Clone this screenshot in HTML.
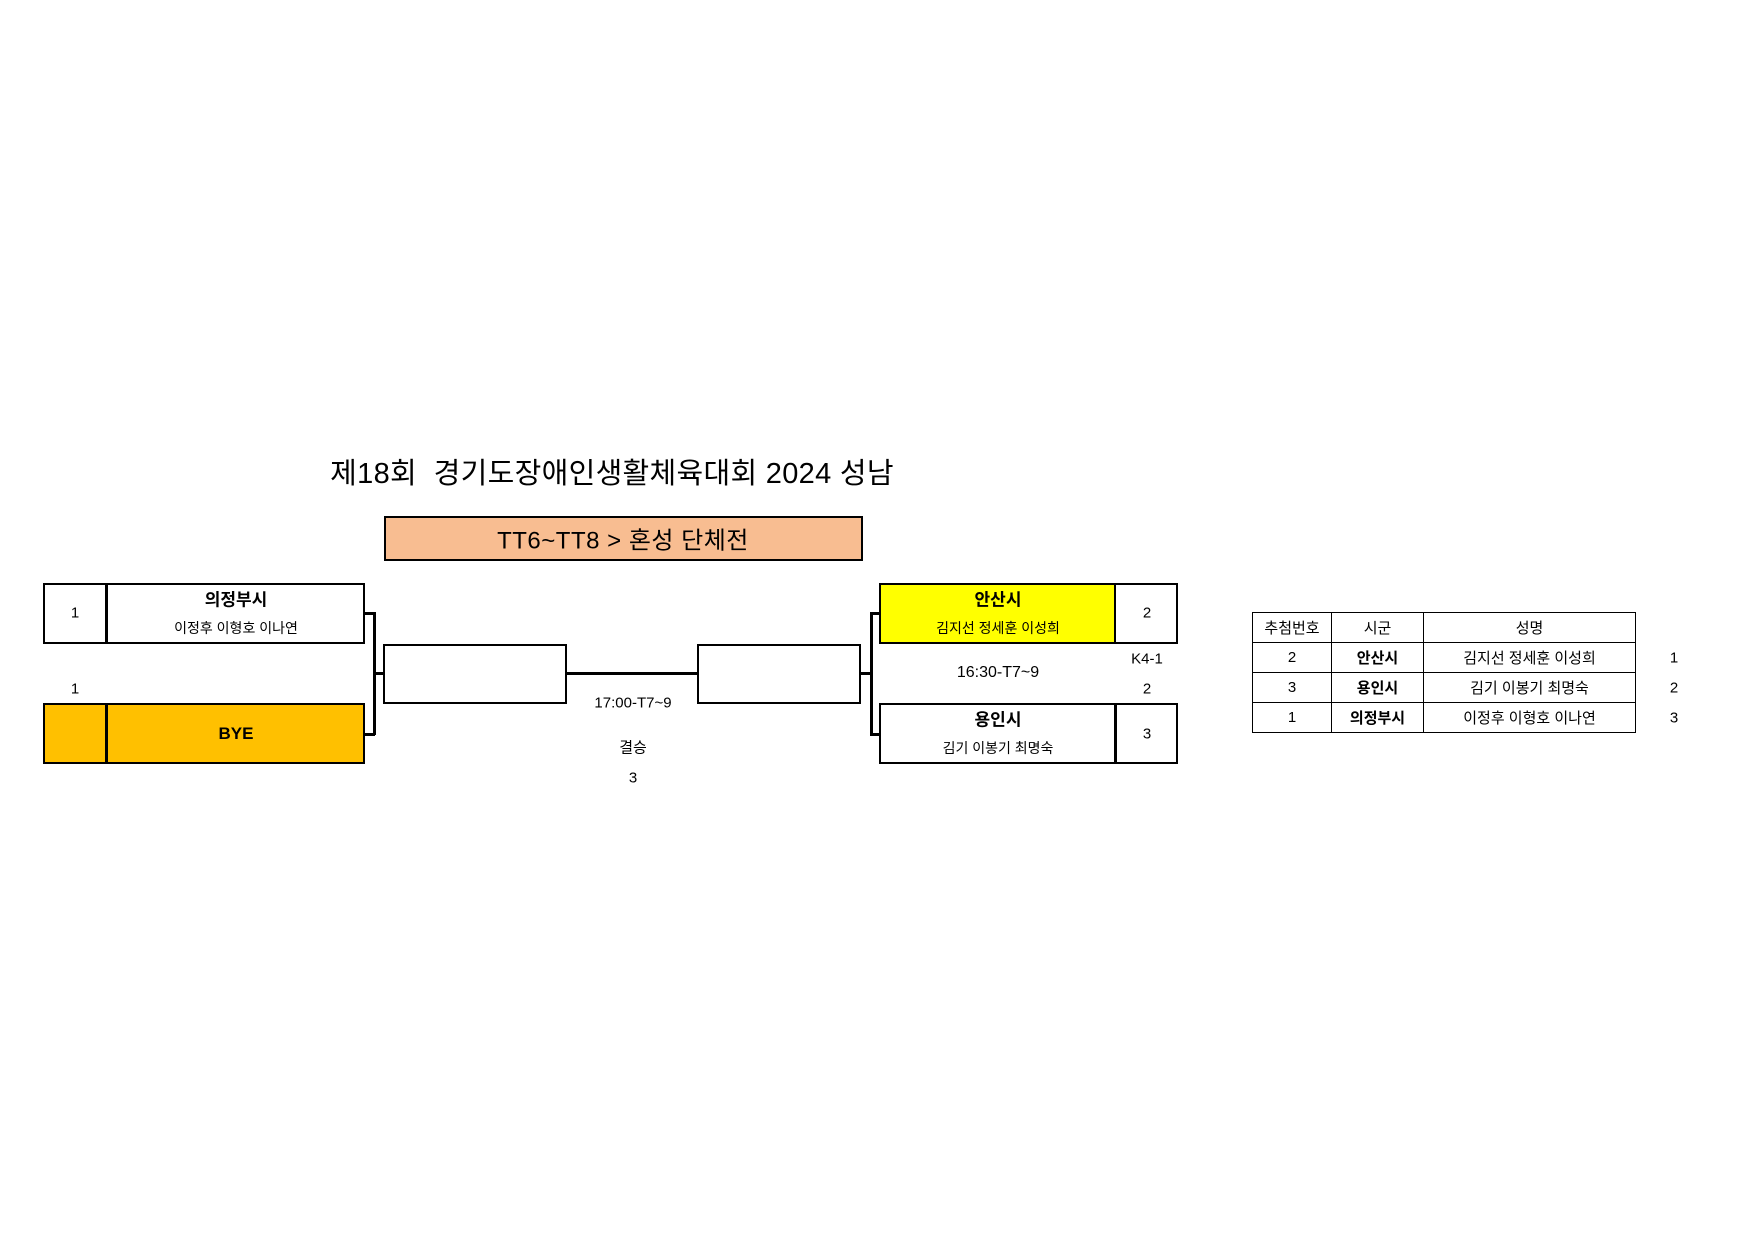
<!DOCTYPE html>
<html><head><meta charset="utf-8"><style>
body{margin:0;width:1755px;height:1241px;background:#fff;position:relative;overflow:hidden;font-family:"Liberation Sans","Noto Sans CJK KR",sans-serif;color:#000}
.a{position:absolute}
.b{position:absolute;border:2.5px solid #000;box-sizing:border-box}
.t{position:absolute;text-align:center;white-space:nowrap;transform:translate(-50%,-50%)}
.h{position:absolute;background:#000}
table{border-collapse:collapse;position:absolute;left:1259px;top:612px;font-size:15px}
td{border:1.5px solid #000;height:29px;text-align:center;padding:0}
</style></head><body>
<div class="t" style="left:612px;top:471px;font-size:29px;letter-spacing:0.3px">제18회&nbsp; 경기도장애인생활체육대회 2024 성남</div>
<div class="b" style="left:384px;top:516px;width:479px;height:45px;background:#F8BD91"></div>
<div class="t" style="left:623px;top:538px;font-size:24px;letter-spacing:0.5px">TT6~TT8 &gt; 혼성 단체전</div>

<div class="b" style="left:43px;top:583px;width:322px;height:61px"></div>
<div class="h" style="left:105px;top:583px;width:2.5px;height:61px"></div>
<div class="t" style="left:75px;top:613px;font-size:15px">1</div>
<div class="t" style="left:236px;top:598px;font-size:17px;font-weight:bold">의정부시</div>
<div class="t" style="left:236px;top:628px;font-size:14px">이정후 이형호 이나연</div>
<div class="t" style="left:75px;top:689px;font-size:15px">1</div>
<div class="b" style="left:43px;top:703px;width:322px;height:61px;background:#FFC000"></div>
<div class="h" style="left:105px;top:703px;width:2.5px;height:61px"></div>
<div class="t" style="left:236px;top:734px;font-size:17px;font-weight:bold">BYE</div>

<div class="h" style="left:365px;top:612px;width:10px;height:2.5px"></div>
<div class="h" style="left:365px;top:733px;width:10px;height:2.5px"></div>
<div class="h" style="left:373px;top:612px;width:2.5px;height:123px"></div>
<div class="h" style="left:373px;top:672px;width:11px;height:2.5px"></div>

<div class="b" style="left:383px;top:644px;width:184px;height:60px"></div>
<div class="h" style="left:566px;top:672px;width:133px;height:2.5px"></div>
<div class="b" style="left:697px;top:644px;width:164px;height:60px"></div>
<div class="t" style="left:633px;top:703px;font-size:15px">17:00-T7~9</div>
<div class="t" style="left:633px;top:747px;font-size:15px">결승</div>
<div class="t" style="left:633px;top:778px;font-size:15px">3</div>

<div class="h" style="left:860px;top:672px;width:12px;height:2.5px"></div>
<div class="h" style="left:870px;top:612px;width:2.5px;height:123px"></div>
<div class="h" style="left:870px;top:612px;width:10px;height:2.5px"></div>
<div class="h" style="left:870px;top:733px;width:10px;height:2.5px"></div>

<div class="b" style="left:879px;top:583px;width:299px;height:61px;background:#FFFF00"></div>
<div class="h" style="left:1114px;top:583px;width:2.5px;height:61px"></div>
<div class="a" style="left:1116px;top:585px;width:60px;height:57px;background:#fff"></div>
<div class="t" style="left:998px;top:598px;font-size:17px;font-weight:bold">안산시</div>
<div class="t" style="left:998px;top:628px;font-size:14px">김지선 정세훈 이성희</div>
<div class="t" style="left:1147px;top:613px;font-size:15px">2</div>
<div class="t" style="left:998px;top:673px;font-size:16px">16:30-T7~9</div>
<div class="t" style="left:1147px;top:659px;font-size:15px">K4-1</div>
<div class="t" style="left:1147px;top:689px;font-size:15px">2</div>
<div class="b" style="left:879px;top:703px;width:299px;height:61px"></div>
<div class="h" style="left:1114px;top:703px;width:2.5px;height:61px"></div>
<div class="t" style="left:998px;top:718px;font-size:17px;font-weight:bold">용인시</div>
<div class="t" style="left:998px;top:748px;font-size:14px">김기 이봉기 최명숙</div>
<div class="t" style="left:1147px;top:734px;font-size:15px">3</div>

<table style="left:1252px">
<tr><td style="width:78px">추첨번호</td><td style="width:91px">시군</td><td style="width:211px">성명</td></tr>
<tr><td>2</td><td><b>안산시</b></td><td>김지선 정세훈 이성희</td></tr>
<tr><td>3</td><td><b>용인시</b></td><td>김기 이봉기 최명숙</td></tr>
<tr><td>1</td><td><b>의정부시</b></td><td>이정후 이형호 이나연</td></tr>
</table>
<div class="t" style="left:1674px;top:658px;font-size:15px">1</div>
<div class="t" style="left:1674px;top:688px;font-size:15px">2</div>
<div class="t" style="left:1674px;top:718px;font-size:15px">3</div>
</body></html>
